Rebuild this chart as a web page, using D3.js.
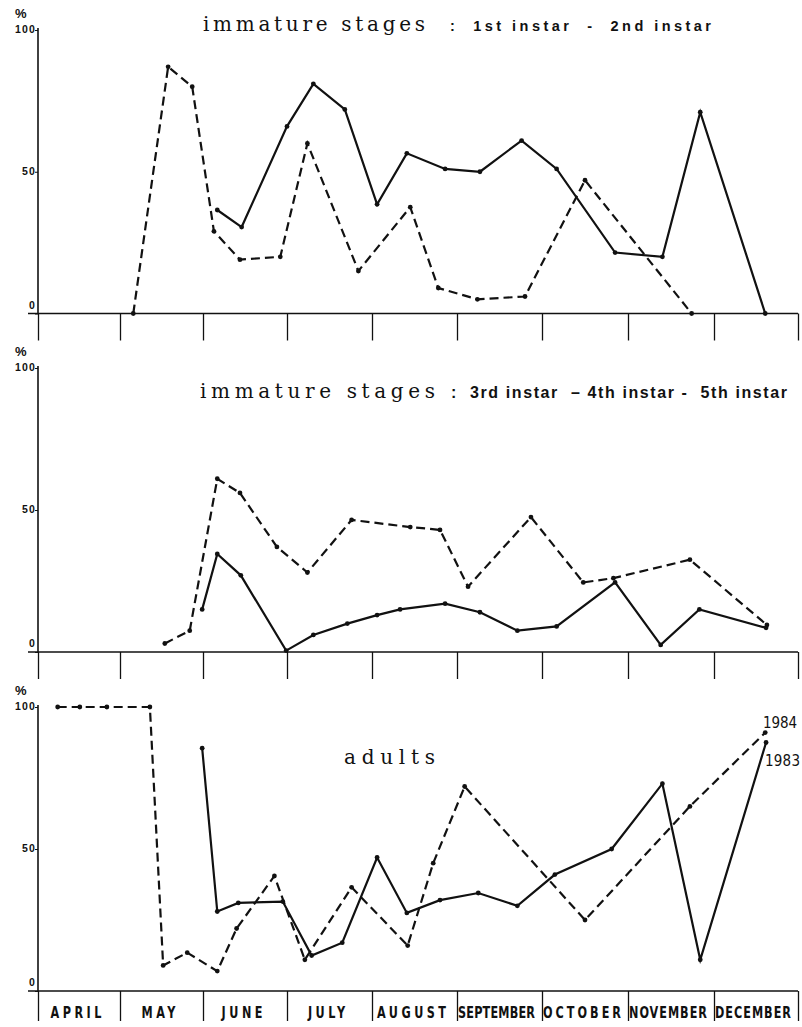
<!DOCTYPE html>
<html>
<head>
<meta charset="utf-8">
<script src="https://cdn.jsdelivr.net/npm/d3@7"></script>
<style>
body { margin: 0; background: #fff; }
</style>
</head>
<body>
<script>
// months along the x axis
var months = ["APRIL", "MAY", "JUNE", "JULY", "AUGUST", "SEPTEMBER", "OCTOBER", "NOVEMBER", "DECEMBER"];
var yTicks = [0, 50, 100];

// sampling dates as month index + fraction of month (0 = 1 April)
// panel 1 : 1st instar - 2nd instar
var p1DashX = [1.16, 1.58, 1.87, 2.13, 2.44, 2.92, 3.24, 3.84, 4.45, 4.78, 5.24, 5.80, 6.50, 7.74];
var p1DashY = [0, 87, 80, 29, 19, 20, 60, 15, 37.5, 9, 5, 6, 47, 0];
var p1SolidX = [2.17, 2.46, 3.00, 3.31, 3.68, 4.06, 4.41, 4.86, 5.27, 5.76, 6.17, 6.85, 7.40, 7.84, 8.61];
var p1SolidY = [36.5, 30.5, 66, 81, 72, 38.5, 56.5, 51, 50, 61, 51, 21.5, 20, 71, 0];

// panel 2 : 3rd instar - 4th instar - 5th instar
var p2DashX = [1.54, 1.84, 2.17, 2.44, 2.88, 3.24, 3.76, 4.45, 4.80, 5.13, 5.87, 6.48, 6.83, 7.72, 8.63];
var p2DashY = [3, 7.5, 61, 56, 37, 28, 46.5, 44, 43, 23, 47.5, 24.5, 26, 32.5, 9.5];
var p2SolidX = [1.99, 2.17, 2.45, 2.99, 3.31, 3.71, 4.06, 4.33, 4.86, 5.27, 5.71, 6.17, 6.85, 7.38, 7.83, 8.62];
var p2SolidY = [15, 34.5, 27, 0.5, 6, 10, 13, 15, 17, 14, 7.5, 9, 24.5, 2.5, 15, 8.5];

// panel 3 : adults (dashed = 1984, solid = 1983)
var p3DashX = [0.24, 0.51, 0.84, 1.36, 1.52, 1.81, 2.17, 2.40, 2.85, 3.21, 3.76, 4.42, 4.72, 5.09, 6.50, 7.72, 8.61];
var p3DashY = [100, 100, 100, 100, 9, 13.5, 7, 22, 40.5, 11, 36.5, 16, 45, 72, 25, 65, 91];
var p3SolidX = [1.99, 2.17, 2.42, 2.95, 3.29, 3.65, 4.06, 4.41, 4.80, 5.25, 5.71, 6.15, 6.81, 7.40, 7.84, 8.62];
var p3SolidY = [85.5, 28, 31, 31.5, 12.5, 17, 47, 27.5, 32, 34.5, 30, 41, 50, 73, 11, 87.5];

var W = 802, H = 1027;
var serif = "'DejaVu Serif', serif";
var sans = "'Liberation Sans', Arial, sans-serif";
var narrow = "'Liberation Sans Narrow', 'DejaVu Sans Condensed', sans-serif";

var svg = d3.select("body").append("svg")
    .attr("width", W)
    .attr("height", H);

// month boundaries are not quite evenly spaced on the original
var x = d3.scaleLinear()
    .domain(d3.range(10))
    .range([38, 120, 203, 287, 372, 457, 542, 628, 714, 798]);

var panels = [
    {y0: 313.5, y100: 30, dashX: p1DashX, dashY: p1DashY, solidX: p1SolidX, solidY: p1SolidY,
     serifTitle: "immature stages", serifX: 203, serifW: 222,
     sub: ":  1st instar  -  2nd instar", subX: 450, subW: 261, subSize: 14.5, subWeight: "bold", base: 31},
    {y0: 652, y100: 368, dashX: p2DashX, dashY: p2DashY, solidX: p2SolidX, solidY: p2SolidY,
     serifTitle: "immature stages", serifX: 200, serifW: 235,
     sub: ":  3rd instar  \u2013 4th instar -  5th instar", subX: 451, subW: 336, subSize: 16, subWeight: "bold", base: 398},
    {y0: 991, y100: 707, dashX: p3DashX, dashY: p3DashY, solidX: p3SolidX, solidY: p3SolidY,
     serifTitle: "adults", serifX: 344, serifW: 91, base: 764, months: true}
];

panels.forEach(function (p) {
    var y = d3.scaleLinear().domain([0, 100]).range([p.y0, p.y100]);
    var g = svg.append("g");

    // x axis: baseline + month boundary ticks
    var xAxis = g.append("g")
        .attr("transform", "translate(0," + p.y0 + ")")
        .call(d3.axisBottom(x).tickValues(d3.range(10)).tickSize(p.months ? 30 : 27).tickFormat(""));
    xAxis.select(".domain").remove();
    xAxis.selectAll(".tick line").attr("stroke", "#111").attr("stroke-width", 1.3);
    g.append("line")
        .attr("x1", x(0) - 10).attr("x2", x(9))
        .attr("y1", p.y0).attr("y2", p.y0)
        .attr("stroke", "#111").attr("stroke-width", 1.6);

    // y axis
    var yAxis = g.append("g")
        .attr("transform", "translate(" + x(0) + ",0)")
        .call(d3.axisLeft(y).tickValues(yTicks).tickSize(3).tickSizeOuter(0));
    yAxis.select(".domain").attr("stroke", "#111").attr("stroke-width", 1.6)
        .attr("d", "M0," + (y(100) - 2) + "V" + p.y0);
    yAxis.selectAll(".tick line").attr("stroke", "#111");
    yAxis.selectAll(".tick text")
        .attr("x", -2)
        .attr("dy", function (d) { return d === 0 ? "-0.5em" : "0.25em"; })
        .attr("font-family", sans)
        .attr("font-weight", "bold")
        .attr("font-size", 10.5)
        .attr("letter-spacing", 1.2)
        .attr("fill", "#111");
    g.append("text")
        .attr("x", 15).attr("y", y(100) - 12)
        .attr("font-family", sans).attr("font-weight", "bold").attr("font-size", 13)
        .attr("fill", "#111")
        .text("%");

    // titles
    g.append("text")
        .attr("x", p.serifX).attr("y", p.base)
        .attr("font-family", serif).attr("font-size", 20).attr("fill", "#111")
        .attr("textLength", p.serifW).attr("lengthAdjust", "spacing")
        .text(p.serifTitle);
    if (p.sub) {
        g.append("text")
            .attr("x", p.subX).attr("y", p.base)
            .attr("font-family", sans).attr("font-weight", p.subWeight).attr("font-size", p.subSize)
            .attr("fill", "#111")
            .attr("textLength", p.subW).attr("lengthAdjust", "spacing")
            .attr("xml:space", "preserve")
            .style("white-space", "pre")
            .text(p.sub);
    }

    // series
    var line = d3.line().x(function (d) { return x(d[0]); }).y(function (d) { return y(d[1]); });
    var dash = d3.zip(p.dashX, p.dashY);
    var solid = d3.zip(p.solidX, p.solidY);

    g.append("path").datum(dash)
        .attr("d", line)
        .attr("fill", "none").attr("stroke", "#111").attr("stroke-width", 2.2)
        .attr("stroke-dasharray", "9,5");
    g.append("path").datum(solid)
        .attr("d", line)
        .attr("fill", "none").attr("stroke", "#111").attr("stroke-width", 2.2);

    g.selectAll(".pt").data(dash.concat(solid)).enter().append("circle")
        .attr("cx", function (d) { return x(d[0]); })
        .attr("cy", function (d) { return y(d[1]); })
        .attr("r", 2.4)
        .attr("fill", "#111");

    if (p.months) {
        // month names inside each band, tall condensed caps
        g.selectAll(".month").data(months).enter().append("text")
            .attr("transform", function (d, i) {
                return "translate(" + ((x(i) + x(i + 1)) / 2 - 3) + "," + (p.y0 + 27) + ") scale(1,1.25)";
            })
            .attr("text-anchor", "middle")
            .attr("font-family", narrow).attr("font-weight", "bold").attr("font-size", 12.5)
            .attr("fill", "#111")
            .text(function (d) { return d; })
            .each(function (d, i) {
                var band = x(i + 1) - x(i) - 8;
                var w = this.getComputedTextLength();
                var n = d.length;
                if (w > band) {
                    d3.select(this).attr("textLength", band).attr("lengthAdjust", "spacingAndGlyphs");
                } else {
                    var sp = Math.min(3.5, (band - w) / (n - 1));
                    d3.select(this).attr("textLength", w + sp * (n - 1)).attr("lengthAdjust", "spacing");
                }
            });

        // year labels at the end of the lines
        g.append("text")
            .attr("x", 763).attr("y", y(p3DashY[p3DashY.length - 1]) - 5)
            .attr("font-family", narrow).attr("font-size", 15).attr("fill", "#111")
            .attr("textLength", 34).attr("lengthAdjust", "spacing")
            .text("1984");
        g.append("text")
            .attr("x", 765).attr("y", y(p3SolidY[p3SolidY.length - 1]) + 23)
            .attr("font-family", narrow).attr("font-size", 15).attr("fill", "#111")
            .attr("textLength", 35).attr("lengthAdjust", "spacing")
            .text("1983");
    }
});
</script>
</body>
</html>
